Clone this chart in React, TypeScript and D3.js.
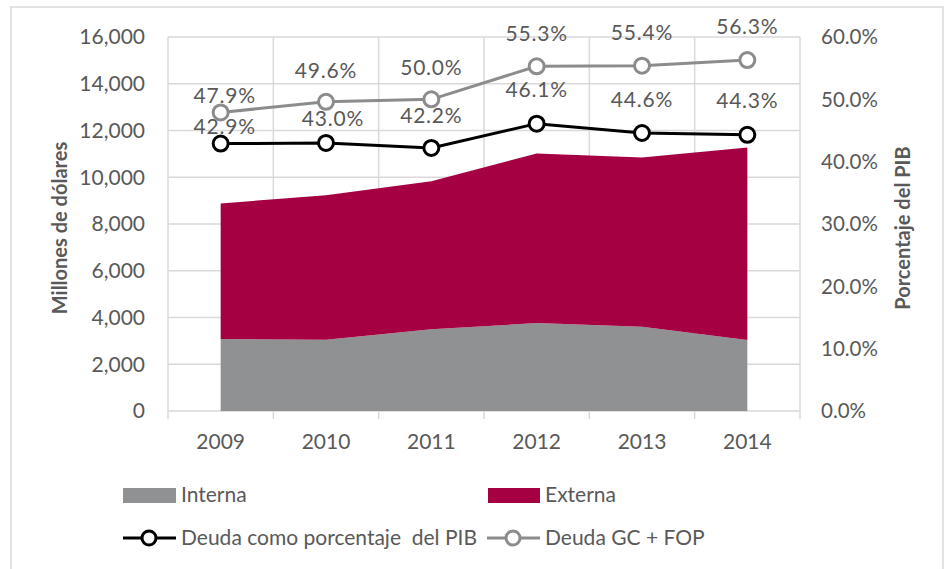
import React from "react";
import * as d3 from "d3";

const years = ["2009", "2010", "2011", "2012", "2013", "2014"];
const interna = [3080, 3050, 3500, 3760, 3600, 3040];
const externa = [5800, 6180, 6330, 7260, 7250, 8230];
const deudaPIB = [42.9, 43.0, 42.2, 46.1, 44.6, 44.3];
const deudaGC = [47.9, 49.6, 50.0, 55.3, 55.4, 56.3];
const leftTicks = [0, 2000, 4000, 6000, 8000, 10000, 12000, 14000, 16000];
const rightTicks = [0, 10, 20, 30, 40, 50, 60];
// data-label placement (pixels above / beside each marker)
const gcLabelLift = [17, 31, 32, 33, 33, 33];
const pibLabelLift = [17, 24, 32, 34, 33, 34];
const gcLabelShift = [4, 0, 0, 0, 0, 0];
const pibLabelShift = [4, 7, 0, 0, 0, 0];

const W = 949, H = 569;
const plot = { left: 168, right: 800, top: 37, bottom: 411 };
const FONT = "Lato, 'Open Sans', sans-serif";
const TXT = "#595959";
const GRID = "#d9d9d9";
const C_INT = "#8f9192";
const C_EXT = "#a50041";
const C_GC = "#8c8c8c";

export default function App() {
  const band = d3.scaleBand().domain(years).range([plot.left, plot.right]).padding(0);
  const cx = (y: string) => (band(y) as number) + band.bandwidth() / 2;
  const yL = d3.scaleLinear().domain([0, 16000]).range([plot.bottom, plot.top]);
  const yR = d3.scaleLinear().domain([0, 60]).range([plot.bottom, plot.top]);

  const rows = years.map((y, i) => ({ y, a: interna[i], b: externa[i] }));
  const stacked = d3.stack<any>().keys(["a", "b"])(rows);
  const area = d3
    .area<any>()
    .x((d) => cx(d.data.y))
    .y0((d) => yL(d[0]))
    .y1((d) => yL(d[1]));

  const line = d3
    .line<number>()
    .x((_, i) => cx(years[i]))
    .y((d) => yR(d));

  const fmt = d3.format(",");
  const boundaries = years.map((y) => band(y) as number).concat([plot.right]);

  const series = [
    { vals: deudaGC, color: C_GC, lift: gcLabelLift, shift: gcLabelShift },
    { vals: deudaPIB, color: "#000", lift: pibLabelLift, shift: pibLabelShift },
  ];

  return (
    <svg
      width={W}
      height={H}
      style={{ position: "absolute", left: 0, top: 0, background: "#fff" }}
      fontFamily={FONT}
    >
      <rect x={11} y={7} width={932} height={580} fill="#fff" stroke={GRID} strokeWidth={1.5} />
      {leftTicks.map((t) => (
        <line key={"h" + t} x1={plot.left} x2={plot.right} y1={yL(t)} y2={yL(t)} stroke={GRID} strokeWidth={1.5} />
      ))}
      {boundaries.map((x, i) => (
        <line key={"v" + i} x1={x} x2={x} y1={plot.top} y2={plot.bottom + 8} stroke={GRID} strokeWidth={1.5} />
      ))}
      <path d={area(stacked[0]) as string} fill={C_INT} />
      <path d={area(stacked[1]) as string} fill={C_EXT} />
      {leftTicks.map((t) => (
        <text key={"l" + t} x={145} y={yL(t)} dy="0.35em" textAnchor="end" fontSize={21} fill={TXT}>
          {fmt(t)}
        </text>
      ))}
      {rightTicks.map((t) => (
        <text key={"r" + t} x={821} y={yR(t)} dy="0.35em" textAnchor="start" fontSize={20.5} fill={TXT}>
          {t.toFixed(1) + "%"}
        </text>
      ))}
      {years.map((y) => (
        <text key={"x" + y} x={cx(y)} y={442} dy="0.35em" textAnchor="middle" fontSize={21} fill={TXT}>
          {y}
        </text>
      ))}
      <text
        transform={`translate(60,${(plot.top + plot.bottom) / 2 + 4}) rotate(-90)`}
        textAnchor="middle"
        dy="0.35em"
        fontSize={20}
        fontWeight="bold"
        fill={TXT}
      >
        Millones de dólares
      </text>
      <text
        transform={`translate(903,${(plot.top + plot.bottom) / 2 + 4}) rotate(-90)`}
        textAnchor="middle"
        dy="0.35em"
        fontSize={20}
        fontWeight="bold"
        fill={TXT}
      >
        Porcentaje del PIB
      </text>
      {series.map((s, k) => (
        <g key={"s" + k}>
          <path d={line(s.vals) as string} fill="none" stroke={s.color} strokeWidth={3} />
          {s.vals.map((v, i) => (
            <circle key={i} cx={cx(years[i])} cy={yR(v)} r={7.5} fill="#fff" stroke={s.color} strokeWidth={3} />
          ))}
        </g>
      ))}
      {series.map((s, k) =>
        s.vals.map((v, i) => (
          <text
            key={"t" + k + i}
            x={cx(years[i]) + s.shift[i]}
            y={yR(v) - s.lift[i]}
            dy="0.35em"
            textAnchor="middle"
            fontSize={21}
            letterSpacing={0.8}
            fill={TXT}
          >
            {v.toFixed(1) + "%"}
          </text>
        ))
      )}
      <rect x={123} y={488} width={53} height={15} fill={C_INT} />
      <text x={181} y={495} dy="0.35em" fontSize={21} fill={TXT}>Interna</text>
      <rect x={488} y={488} width={52} height={15} fill={C_EXT} />
      <text x={545} y={495} dy="0.35em" fontSize={21} fill={TXT}>Externa</text>
      <line x1={123} x2={176} y1={538} y2={538} stroke="#000" strokeWidth={3} />
      <circle cx={149} cy={538} r={7} fill="#fff" stroke="#000" strokeWidth={3} />
      <text x={181} y={538} dy="0.35em" fontSize={21} fill={TXT} style={{ whiteSpace: "pre" }}>
        {"Deuda como porcentaje  del PIB"}
      </text>
      <line x1={487} x2={540} y1={538} y2={538} stroke={C_GC} strokeWidth={3} />
      <circle cx={513} cy={538} r={7} fill="#fff" stroke={C_GC} strokeWidth={3} />
      <text x={545} y={538} dy="0.35em" fontSize={21} fill={TXT}>Deuda GC + FOP</text>
    </svg>
  );
}
